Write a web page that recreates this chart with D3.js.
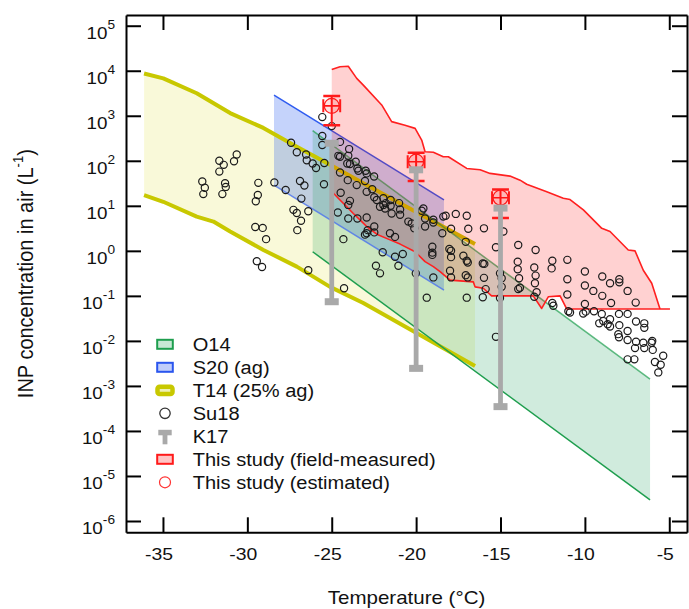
<!DOCTYPE html>
<html lang="en">
<head>
  <meta charset="UTF-8">
  <title>INP concentration vs temperature</title>
  <script src="https://d3js.org/d3.v7.min.js"></script>
  <style>
    body { margin: 0; background: #fff; }
    svg { display: block; font-family: "Liberation Sans", Arial, Helvetica, sans-serif; }
  </style>
</head>
<body>
  <div id="chart"></div>
  <script>
    // values: temperature in degC, concentration as log10(L^-1)
    const xTicks = [-35, -30, -25, -20, -15, -10, -5];
    const yTickExps = [-6, -5, -4, -3, -2, -1, 0, 1, 2, 3, 4, 5];

    // T14 (25% ag) band
    const t14Upper = [[-36.12, 3.94], [-34.98, 3.83], [-33.0, 3.50], [-31.02, 3.06], [-29.05, 2.73],
      [-27.07, 2.31], [-25.1, 1.91], [-23.13, 1.50], [-16.51, 0.15]];
    const t14Lower = [[-36.12, 1.24], [-34.98, 1.09], [-33.0, 0.76], [-32.01, 0.65], [-31.02, 0.43],
      [-29.05, 0.02], [-27.07, -0.35], [-25.1, -0.80], [-23.13, -1.16], [-16.51, -2.56]];

    // S20 (ag) band
    const s20Upper = [[-28.42, 3.46], [-18.35, 1.13]];
    const s20Lower = [[-28.42, 1.46], [-18.35, -0.87]];

    // O14 band
    const o14Upper = [[-26.13, 2.67], [-6.14, -2.85]];
    const o14Lower = [[-26.13, -0.02], [-6.14, -5.53]];

    // this study, field-measured envelope
    const fieldUpper = [[-25.0, 4.03], [-24.51, 4.09], [-24.02, 4.10], [-23.52, 3.83], [-23.13, 3.68],
      [-22.04, 3.24], [-21.45, 2.87], [-20.66, 2.79], [-20.06, 2.72], [-19.67, 2.46], [-19.47, 2.20],
      [-18.98, 2.19], [-18.39, 2.09], [-18.09, 2.09], [-17.0, 1.83], [-16.21, 1.80], [-15.62, 1.72],
      [-14.44, 1.66], [-13.84, 1.57], [-13.45, 1.48], [-12.26, 1.31], [-11.28, 1.17], [-10.88, 1.14],
      [-10.09, 0.91], [-9.0, 0.50], [-8.51, 0.43], [-7.43, 0.02], [-7.03, 0.0], [-6.54, -0.43],
      [-6.04, -0.72], [-5.55, -1.29]];
    const fieldLower = [[-25.0, 1.42], [-24.9, 1.28], [-24.51, 1.13], [-24.11, 0.98], [-23.72, 0.83],
      [-23.22, 0.65], [-22.93, 0.54], [-22.33, 0.37], [-21.65, 0.26], [-20.95, 0.15], [-20.06, -0.02],
      [-19.47, -0.24], [-18.98, -0.35], [-18.58, -0.46], [-17.99, -0.65], [-16.61, -0.69], [-16.51, -0.80],
      [-16.02, -0.83], [-15.53, -1.0], [-13.06, -1.0], [-12.56, -1.28], [-12.17, -1.02], [-11.47, -1.0],
      [-11.08, -1.29], [-4.96, -1.29]];

    // Su18 points
    const su18 = [
      [-30.63, 2.14], [-31.66, 2.00], [-31.40, 1.91], [-30.79, 1.99], [-31.66, 1.76], [-32.67, 1.54],
      [-32.52, 1.40], [-32.61, 1.26], [-31.32, 1.50], [-31.28, 1.42], [-31.48, 1.26], [-29.35, 1.51],
      [-29.38, 1.24], [-29.50, 1.10], [-28.40, 1.52], [-27.41, 2.40], [-27.07, 2.19], [-26.52, 2.14],
      [-26.48, 2.01], [-26.13, 1.94], [-25.93, 1.84], [-25.44, 1.95], [-25.56, 2.55], [-25.56, 2.35],
      [-26.88, 1.55], [-26.62, 1.45], [-27.73, 1.35], [-26.80, 1.16], [-25.46, 1.48], [-27.27, 0.91],
      [-27.07, 0.84], [-26.39, 0.88], [-26.82, 0.67], [-27.04, 0.46], [-29.53, 0.53], [-29.09, 0.51],
      [-28.89, 0.26], [-29.44, -0.23], [-29.13, -0.36], [-26.39, -0.43], [-25.56, 2.97], [-25.00, 2.77],
      [-24.51, 2.42], [-23.97, 2.26], [-24.61, 2.11], [-24.51, 2.09], [-24.02, 2.11], [-23.58, 1.98],
      [-24.08, 1.94], [-23.92, 1.93], [-23.48, 1.83], [-23.42, 1.78], [-22.99, 1.78], [-22.93, 1.72],
      [-22.49, 1.65], [-24.51, 1.74], [-24.05, 1.57], [-23.52, 1.46], [-23.03, 1.55], [-22.93, 1.31],
      [-22.60, 1.37], [-24.47, 1.29], [-23.92, 1.11], [-22.48, 1.19], [-22.33, 1.13], [-21.94, 1.17],
      [-21.80, 1.06], [-21.51, 1.13], [-24.64, 0.85], [-24.02, 1.02], [-24.02, 0.72], [-23.48, 0.72],
      [-22.93, 0.74], [-22.48, 0.54], [-22.87, 0.46], [-22.93, 0.39], [-23.03, 0.36], [-22.48, 0.41],
      [-24.31, 0.26], [-22.14, 0.98], [-21.94, 1.02], [-21.84, 0.94], [-21.51, 1.00], [-21.45, 0.83],
      [-20.95, 0.92], [-20.95, 0.80], [-21.01, 1.06], [-21.55, 0.39], [-21.25, 0.31], [-20.46, 0.65],
      [-20.26, 0.61], [-20.11, 0.50], [-19.57, 0.94], [-19.67, 0.89], [-19.47, 0.72], [-18.98, 0.69],
      [-18.98, 0.63], [-18.39, 0.76], [-19.47, 0.54], [-18.45, 0.39], [-19.04, 0.09], [-19.04, -0.04],
      [-19.04, -0.09], [-21.98, -0.03], [-21.25, -0.13], [-20.79, -0.07], [-21.05, -0.33], [-22.38, -0.33],
      [-22.14, -0.50], [-18.98, -0.59], [-24.27, -0.83], [-19.37, -1.04], [-20.02, -0.50], [-18.25, 0.78],
      [-17.65, 0.82], [-17.00, 0.78], [-17.93, 0.49], [-16.91, 0.49], [-15.98, 0.50], [-17.06, 0.20],
      [-18.03, 0.04], [-17.93, 0.00], [-17.93, -0.14], [-17.20, -0.11], [-17.00, -0.22], [-16.94, -0.26],
      [-16.05, -0.28], [-15.96, -0.29], [-17.99, -0.44], [-17.93, -0.59], [-17.06, -0.54], [-16.94, -0.59],
      [-15.98, -0.60], [-15.88, -0.85], [-17.00, -1.04], [-16.05, -1.03], [-14.83, 0.43], [-15.27, 0.08],
      [-13.95, 0.13], [-12.92, 0.02], [-13.98, -0.24], [-13.98, -0.41], [-15.03, -0.50], [-14.93, -0.61],
      [-13.90, -0.61], [-13.95, -0.85], [-13.85, -0.82], [-13.00, -0.37], [-12.92, -0.55], [-12.96, -0.72],
      [-11.93, -0.22], [-11.97, -0.39], [-12.86, -0.92], [-13.00, -1.02], [-11.93, -1.16], [-11.87, -1.22],
      [-15.03, -1.05], [-14.93, -0.80], [-15.27, -1.91], [-11.04, -0.20], [-10.00, -0.46], [-11.04, -0.63],
      [-8.97, -0.57], [-8.51, -0.72], [-7.96, -0.63], [-7.96, -0.70], [-10.00, -0.77], [-9.50, -0.89],
      [-11.04, -0.97], [-8.97, -1.00], [-7.47, -0.89], [-8.45, -1.16], [-6.99, -1.15], [-10.00, -1.18],
      [-10.98, -1.34], [-10.88, -1.37], [-10.10, -1.39], [-9.95, -1.35], [-9.46, -1.34], [-9.00, -1.40],
      [-7.98, -1.40], [-7.47, -1.40], [-8.51, -1.52], [-8.91, -1.56], [-9.15, -1.61], [-8.65, -1.63],
      [-8.51, -1.68], [-7.96, -1.65], [-6.97, -1.57], [-6.48, -1.61], [-6.48, -1.71], [-7.47, -1.78],
      [-8.02, -1.85], [-7.98, -1.92], [-7.47, -1.98], [-6.97, -2.02], [-6.54, -2.04], [-6.01, -2.00],
      [-6.05, -2.04], [-7.03, -2.16], [-6.48, -2.16], [-5.98, -2.20], [-5.36, -2.33], [-7.47, -2.41],
      [-7.07, -2.41], [-5.85, -2.47], [-5.51, -2.53], [-5.65, -2.70]
    ];

    // K17 ranges
    const k17T = [-25, -20, -15];
    const k17High = [2.39, 1.80, 0.95];
    const k17Low = [-1.13, -2.61, -3.46];

    // this study, estimated (centre, error bar top / bottom, +-T)
    const estT = [-25, -20, -15];
    const estMid = [3.22, 1.98, 1.18];
    const estHigh = [3.44, 2.18, 1.36];
    const estLow = [2.79, 1.55, 0.73];
    const estTErr = 0.5;

    const legendLabels = ["O14", "S20 (ag)", "T14 (25% ag)", "Su18", "K17",
      "This study (field-measured)", "This study (estimated)"];

    const width = 689;
    const height = 609;
    const plot = { left: 126, right: 687, top: 15, bottom: 532.3 };
    const STRETCH = "scale(1.14,1)";

    const x = d3.scaleLinear().domain([-37.19, -3.95]).range([plot.left, plot.right]);
    const y = d3.scaleLog().domain([Math.pow(10, -6.251), Math.pow(10, 5.238)]).range([plot.bottom, plot.top]);
    const px = d => x(d[0]);
    const py = d => y(Math.pow(10, d[1]));
    const yv = l => y(Math.pow(10, l));
    const line = d3.line().x(px).y(py);

    const svg = d3.select("#chart").append("svg")
      .attr("width", width)
      .attr("height", height);

    svg.append("defs").append("clipPath").attr("id", "plot-clip")
      .append("rect")
      .attr("x", plot.left).attr("y", plot.top)
      .attr("width", plot.right - plot.left).attr("height", plot.bottom - plot.top);

    const g = svg.append("g").attr("clip-path", "url(#plot-clip)");

    function bandFill(upper, lower, color, opacity) {
      g.append("path")
        .attr("d", line(upper.concat(lower.slice().reverse())) + "Z")
        .attr("fill", color)
        .attr("fill-opacity", opacity)
        .attr("stroke", "none");
    }

    function edge(pts, color, w, opacity) {
      g.append("path")
        .attr("d", line(pts))
        .attr("fill", "none")
        .attr("stroke", color)
        .attr("stroke-width", w)
        .attr("stroke-opacity", opacity === undefined ? 1 : opacity)
        .attr("stroke-linejoin", "round");
    }

    // bands
    bandFill(t14Upper, t14Lower, "#d4d400", 0.15);
    bandFill(s20Upper, s20Lower, "#3060f0", 0.28);
    bandFill(o14Upper, o14Lower, "#20a060", 0.21);

    edge(t14Upper, "#c8c800", 4);
    edge(t14Lower, "#c8c800", 4);
    edge(s20Upper, "#2f5cf0", 1.5);
    edge(s20Lower, "#4a70ee", 1.5, 0.8);
    edge(o14Upper, "#1e9e4e", 1.5, 0.7);
    edge(o14Lower, "#1e9e4e", 1.5);

    bandFill(fieldUpper, fieldLower, "#ff0000", 0.18);
    edge(fieldUpper, "#ff2020", 1.6);
    edge(fieldLower, "#ff2020", 1.6);

    // Su18 points
    g.append("g").selectAll("circle")
      .data(su18)
      .join("circle")
      .attr("cx", px)
      .attr("cy", py)
      .attr("r", 3.6)
      .attr("fill", "none")
      .attr("stroke", "#1a1a1a")
      .attr("stroke-width", 1.2);

    // estimated values with error bars
    const est = g.append("g").attr("stroke", "#ff1a1a").attr("fill", "none");
    estT.forEach((t, i) => {
      const cx = x(t), cy = yv(estMid[i]);
      const xl = x(t - estTErr), xr = x(t + estTErr);
      est.append("line").attr("x1", cx).attr("x2", cx)
        .attr("y1", yv(estHigh[i])).attr("y2", yv(estLow[i])).attr("stroke-width", 2);
      est.append("line").attr("x1", xl).attr("x2", xr)
        .attr("y1", yv(estHigh[i])).attr("y2", yv(estHigh[i])).attr("stroke-width", 2.5);
      est.append("line").attr("x1", xl).attr("x2", xr)
        .attr("y1", yv(estLow[i])).attr("y2", yv(estLow[i])).attr("stroke-width", 2.5);
      est.append("line").attr("x1", xl).attr("x2", xr)
        .attr("y1", cy).attr("y2", cy).attr("stroke-width", 1.6);
      est.append("line").attr("x1", xl).attr("x2", xl)
        .attr("y1", cy - 6.5).attr("y2", cy + 6.5).attr("stroke-width", 2);
      est.append("line").attr("x1", xr).attr("x2", xr)
        .attr("y1", cy - 6.5).attr("y2", cy + 6.5).attr("stroke-width", 2);
      est.append("circle").attr("cx", cx).attr("cy", cy).attr("r", 7.5)
        .attr("fill", "#ff0000").attr("fill-opacity", 0.12).attr("stroke-width", 1.2);
    });

    // K17 ranges
    const k17 = g.append("g").attr("fill", "#a9a9a9");
    k17T.forEach((t, i) => {
      const cx = x(t);
      k17.append("line").attr("x1", cx).attr("x2", cx)
        .attr("y1", yv(k17High[i])).attr("y2", yv(k17Low[i]))
        .attr("stroke", "#a9a9a9").attr("stroke-width", 4.8);
      k17.append("rect").attr("x", cx - 7).attr("y", yv(k17High[i]) - 3.5).attr("width", 14).attr("height", 7);
      k17.append("rect").attr("x", cx - 7).attr("y", yv(k17Low[i]) - 3.5).attr("width", 14).attr("height", 7);
    });

    // legend
    const legend = svg.append("g").attr("transform", "translate(165,344.3)");
    const rowH = 23;
    legendLabels.forEach((label, i) => {
      const row = legend.append("g").attr("transform", `translate(0,${i * rowH})`);
      if (i === 0) {
        row.append("rect").attr("x", -7.8).attr("y", -4.5).attr("width", 15.6).attr("height", 9)
          .attr("fill", "#c8e8d5").attr("stroke", "#1e9e4e").attr("stroke-width", 2);
      } else if (i === 1) {
        row.append("rect").attr("x", -7.8).attr("y", -4.5).attr("width", 15.6).attr("height", 9)
          .attr("fill", "#c0cdfa").attr("stroke", "#2a55ee").attr("stroke-width", 2);
      } else if (i === 2) {
        row.append("rect").attr("x", -7.5).attr("y", -3.6).attr("width", 15).attr("height", 7.2)
          .attr("rx", 2).attr("fill", "#eef0b4").attr("stroke", "#c8c800").attr("stroke-width", 4.5);
      } else if (i === 3) {
        row.append("circle").attr("r", 5.2).attr("fill", "none").attr("stroke", "#333").attr("stroke-width", 1.3);
      } else if (i === 4) {
        row.append("rect").attr("x", -6.7).attr("y", -6.5).attr("width", 13.4).attr("height", 5.5).attr("fill", "#a9a9a9");
        row.append("rect").attr("x", -2.4).attr("y", -1.5).attr("width", 4.8).attr("height", 9.5).attr("fill", "#a9a9a9");
      } else if (i === 5) {
        row.append("rect").attr("x", -7.8).attr("y", -4.5).attr("width", 15.6).attr("height", 9)
          .attr("fill", "#ffc4c4").attr("stroke", "#ff1a1a").attr("stroke-width", 2);
      } else {
        row.append("circle").attr("r", 5.5).attr("fill", "none").attr("stroke", "#ff3030").attr("stroke-width", 1.2);
      }
      row.append("text")
        .attr("transform", `translate(27.7,6.3) ${STRETCH}`)
        .attr("font-size", 17.6)
        .attr("fill", "#111")
        .text(label);
    });

    // axes (ticks point inward on all four sides)
    function styleAxis(sel) {
      sel.select(".domain").attr("stroke", "#000").attr("stroke-width", 2);
      sel.selectAll(".tick line").attr("stroke", "#000").attr("stroke-width", 2);
      sel.selectAll(".tick text").remove();
    }
    const yTickVals = yTickExps.map(e => Math.pow(10, e));
    svg.append("g").attr("transform", `translate(${plot.left},0)`)
      .call(d3.axisLeft(y).tickValues(yTickVals).tickSizeInner(-15).tickSizeOuter(0))
      .call(styleAxis);
    svg.append("g").attr("transform", `translate(${plot.right},0)`)
      .call(d3.axisRight(y).tickValues(yTickVals).tickSizeInner(-15).tickSizeOuter(0))
      .call(styleAxis);
    svg.append("g").attr("transform", `translate(0,${plot.bottom})`)
      .call(d3.axisBottom(x).tickValues(xTicks).tickSizeInner(-15).tickSizeOuter(0))
      .call(styleAxis);
    svg.append("g").attr("transform", `translate(0,${plot.top})`)
      .call(d3.axisTop(x).tickValues(xTicks).tickSizeInner(-15).tickSizeOuter(0))
      .call(styleAxis);

    // tick labels
    svg.append("g").selectAll("text")
      .data(xTicks)
      .join("text")
      .attr("transform", d => `translate(${x(d) - 4},560) ${STRETCH}`)
      .attr("text-anchor", "middle")
      .attr("font-size", 17)
      .attr("fill", "#111")
      .text(d => d);

    const yLab = svg.append("g").selectAll("text")
      .data(yTickExps)
      .join("text")
      .attr("transform", e => `translate(115,${yv(e) + 12.8}) ${STRETCH}`)
      .attr("text-anchor", "end")
      .attr("fill", "#111");
    yLab.append("tspan").attr("font-size", 16.5).text("10");
    yLab.append("tspan").attr("font-size", 12).attr("dy", -10).text(e => e);

    // axis titles
    svg.append("text")
      .attr("transform", `translate(${(plot.left + plot.right) / 2},604) ${STRETCH}`)
      .attr("text-anchor", "middle")
      .attr("font-size", 18)
      .attr("fill", "#111")
      .text("Temperature (°C)");

    const yTitle = svg.append("text")
      .attr("transform", `translate(33,${(plot.top + plot.bottom) / 2}) ${STRETCH} rotate(-90)`)
      .attr("text-anchor", "middle")
      .attr("font-size", 20)
      .attr("fill", "#111");
    yTitle.append("tspan").text("INP concentration in air (L");
    yTitle.append("tspan").attr("font-size", 13).attr("dy", -9).text("-1");
    yTitle.append("tspan").attr("dy", 9).text(")");
  </script>
</body>
</html>
